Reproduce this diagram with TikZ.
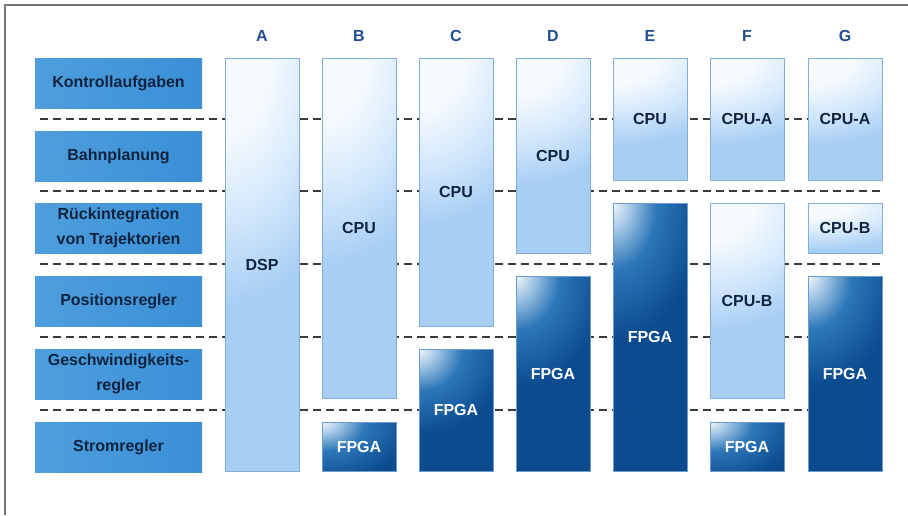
\documentclass[tikz,border=0pt]{standalone}
\usepackage{fontspec}
\setmainfont{Liberation Sans}
\usetikzlibrary{shadings}

\definecolor{framegray}{HTML}{767676}
\definecolor{dashgray}{HTML}{3A3A3A}
\definecolor{letterblue}{HTML}{1F4E8E}
\definecolor{navytext}{HTML}{10233F}
\definecolor{labelblue}{HTML}{3A8FD6}
\definecolor{labellight}{HTML}{4E9EDD}
\definecolor{lightfill}{HTML}{A8CEF4}
\definecolor{lightmid}{HTML}{D2E7FB}
\definecolor{lighttop}{HTML}{F6FAFE}
\definecolor{lightedge}{HTML}{84ADD7}
\definecolor{darkfill}{HTML}{0B4B8E}
\definecolor{darkmid}{HTML}{2D77B8}
\definecolor{darkpale}{HTML}{A8CAE7}
\definecolor{darktop}{HTML}{F2F6FA}
\definecolor{darkedge}{HTML}{6B9DCF}

% concentric glows; the shaded rectangle is centred on the upper left
% corner of the box, so the glow spreads from that corner
\pgfdeclareradialshading{lightglow}{\pgfpointorigin}{%
  color(0bp)=(lighttop); color(3bp)=(lighttop); color(6.5bp)=(lightmid); color(10bp)=(lightfill); color(50bp)=(lightfill)}
\pgfdeclareradialshading{darkglow}{\pgfpointorigin}{%
  color(0bp)=(darktop); color(1.8bp)=(darkpale); color(4.8bp)=(darkmid); color(10bp)=(darkfill); color(50bp)=(darkfill)}

\tikzset{
  every node/.style={inner sep=0pt, outer sep=0pt},
  txt/.style={font=\bfseries\fontsize{16}{25}\selectfont, align=center},
  task/.style={txt, text=navytext, left color=labellight, right color=labelblue,
    minimum width=167pt, minimum height=50pt, anchor=north west},
  unitbox/.style={txt, minimum width=74pt, anchor=north west, line width=1pt},
  lightbox/.style={unitbox, minimum height=#1pt, draw=lightedge, fill=lightfill, text=navytext,
    path picture={\shade[shading=lightglow]
      ([shift={(-360pt,{-(1.375*#1pt+50pt)})}]path picture bounding box.north west) rectangle
      ([shift={(360pt,{1.375*#1pt+50pt})}]path picture bounding box.north west);}},
  darkbox/.style={unitbox, minimum height=#1pt, draw=darkedge, fill=darkfill, text=white,
    path picture={\shade[shading=darkglow]
      ([shift={(-225pt,{-(0.875*#1pt+110pt)})}]path picture bounding box.north west) rectangle
      ([shift={(225pt,{0.875*#1pt+110pt})}]path picture bounding box.north west);}},
  colhead/.style={txt, text=letterblue},
  sep/.style={draw=dashgray, line width=1.8pt, dash pattern=on 8pt off 5pt},
}

\begin{document}
\begin{tikzpicture}[x=1pt, y=-1pt]
\useasboundingbox (0,0) rectangle (908,515);
\fill[white] (0,0) rectangle (908,515);

% frame
\draw[framegray, line width=1.6pt] (5,515) -- (5,5) -- (908,5);

% row separators (behind the boxes)
\foreach \yy in {119,191,264,337,410}
  \draw[sep] (40,\yy) -- (880,\yy);

% task rows
\node[task] (t1) at (35,58)  {Kontrollaufgaben};
\node[task] (t2) at (35,131) {Bahnplanung};
\node[task] (t3) at (35,203) {Rückintegration\\von Trajektorien};
\node[task] (t4) at (35,276) {Positionsregler};
\node[task] (t5) at (35,349) {Geschwindigkeits-\\regler};
\node[task] (t6) at (35,422) {Stromregler};

% column headers
\node[colhead] (hA) at (262,36) {A};
\node[colhead] (hB) at (359,36) {B};
\node[colhead] (hC) at (456,36) {C};
\node[colhead] (hD) at (553,36) {D};
\node[colhead] (hE) at (650,36) {E};
\node[colhead] (hF) at (747,36) {F};
\node[colhead] (hG) at (845,36) {G};

% A
\node[lightbox=413] (aDSP) at (225,58) {DSP};
% B
\node[lightbox=340] (bCPU) at (322,58) {CPU};
\node[darkbox=49]   (bFPGA) at (322,422) {FPGA};
% C
\node[lightbox=268] (cCPU) at (419,58) {CPU};
\node[darkbox=122]  (cFPGA) at (419,349) {FPGA};
% D
\node[lightbox=195] (dCPU) at (516,58) {CPU};
\node[darkbox=195]  (dFPGA) at (516,276) {FPGA};
% E
\node[lightbox=122] (eCPU) at (613,58) {CPU};
\node[darkbox=268]  (eFPGA) at (613,203) {FPGA};
% F
\node[lightbox=122] (fCPUA) at (710,58) {CPU-A};
\node[lightbox=195] (fCPUB) at (710,203) {CPU-B};
\node[darkbox=49]   (fFPGA) at (710,422) {FPGA};
% G
\node[lightbox=122] (gCPUA) at (808,58) {CPU-A};
\node[lightbox=50]  (gCPUB) at (808,203) {CPU-B};
\node[darkbox=195]  (gFPGA) at (808,276) {FPGA};
\end{tikzpicture}
\end{document}
